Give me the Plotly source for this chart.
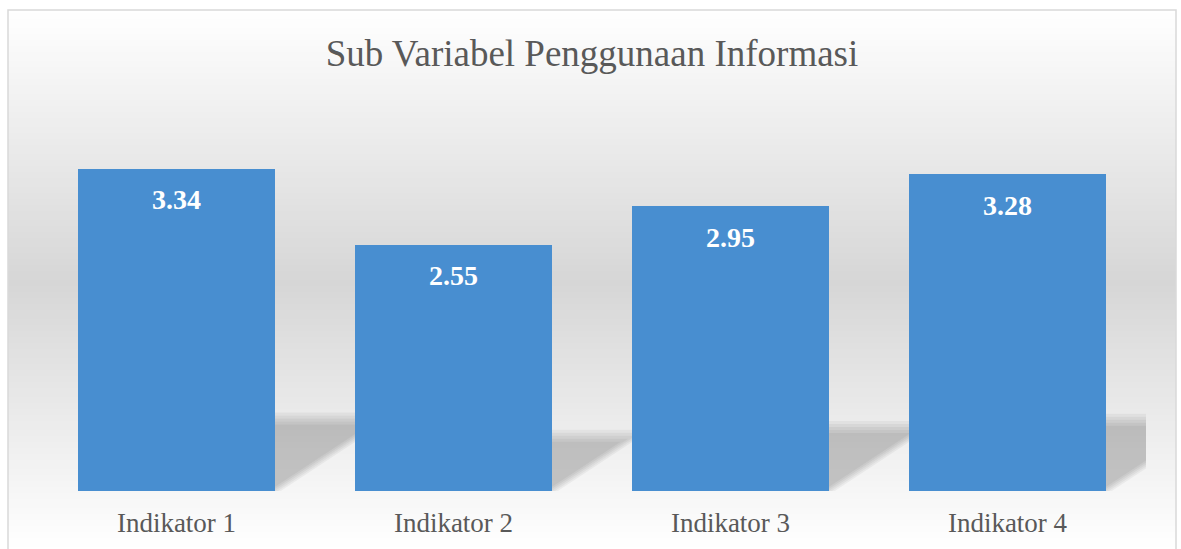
import plotly.graph_objects as go

categories = ["Indikator 1", "Indikator 2", "Indikator 3", "Indikator 4"]
values = [3.34, 2.55, 2.95, 3.28]
title_text = "Sub Variabel Penggunaan Informasi"

W, H = 1181, 549
ML, MR, MT, MB = 38, 35, 105, 58
YMAX = 4.0
BAR_W = 0.71

xpos = list(range(len(categories)))
PW, PH = W - ML - MR, H - MT - MB
px_per_x = PW / len(categories)
px_per_y = PH / YMAX

def py(ypix):
    """page pixel row -> paper fraction"""
    return (H - MB - ypix) / PH

def px(xpix):
    return (xpix - ML) / PW

fig = go.Figure()
fig.add_trace(go.Bar(
    x=xpos, y=values, width=BAR_W,
    marker=dict(color="#488ed0", line=dict(width=0)),
    hoverinfo="skip", showlegend=False,
))

shapes = []

# background: symmetric vertical gradient white -> grey -> white inside the chart border
top_y, bot_y, mid_y = 10, 549, 282
g_edge, g_mid = 255, 214
step = 3
for y in range(top_y, bot_y, step):
    yc = y + step / 2
    if yc <= mid_y:
        t = (yc - top_y) / (mid_y - top_y)
    else:
        t = (bot_y - yc) / (bot_y - mid_y)
    g = int(round(g_edge + (g_mid - g_edge) * t))
    shapes.append(dict(
        type="rect", xref="paper", yref="paper", layer="below",
        x0=px(8), x1=px(1176), y0=py(y + step), y1=py(y),
        fillcolor=f"rgb({g},{g},{g})", line=dict(width=0),
    ))

# soft perspective shadows cast by each bar (size derived from the bar value)
SLOPE = 0.66           # px rise per px run of the diagonal edge
SH_RATIO = 0.225       # shadow height relative to bar height
for i, v in zip(xpos, values):
    R = i + BAR_W / 2
    T = SH_RATIO * v * px_per_y          # shadow height in px
    for o in (-6, -3, 0, 3, 6):
        top_px = T + o
        x_bot = R + o / px_per_x
        x_top = R + (o + top_px / SLOPE) / px_per_x
        shapes.append(dict(
            type="path", xref="x", yref="y", layer="below",
            path=(f"M {R - 0.03} 0 L {R - 0.03} {top_px / px_per_y} "
                  f"L {x_top} {top_px / px_per_y} L {x_bot} 0 Z"),
            fillcolor="rgba(0,0,0,0.045)", line=dict(width=0),
        ))

# chart border
shapes.append(dict(
    type="rect", xref="paper", yref="paper", layer="above",
    x0=px(8), x1=px(1176), y0=py(560), y1=py(10),
    line=dict(color="#d9d9d9", width=1.5), fillcolor="rgba(0,0,0,0)",
))

annotations = []
for i, v in zip(xpos, values):
    annotations.append(dict(
        x=i, y=v, xref="x", yref="y", text=f"{v:.2f}", showarrow=False,
        yanchor="middle", yshift=-31,
        font=dict(family="Liberation Serif", size=28, color="white", weight="bold"),
    ))

fig.update_layout(
    width=W, height=H,
    margin=dict(l=ML, r=MR, t=MT, b=MB),
    paper_bgcolor="white", plot_bgcolor="rgba(0,0,0,0)",
    title=dict(text=title_text, x=0.5, xref="paper", xanchor="center",
               y=1 - 53 / H, yref="container", yanchor="middle",
               font=dict(family="Liberation Serif", size=37, color="#595959")),
    xaxis=dict(tickvals=xpos, ticktext=categories, range=[-0.5, len(categories) - 0.5],
               showgrid=False, zeroline=False, showline=False, ticks="",
               tickfont=dict(family="Liberation Serif", size=27, color="#595959"),
               ticklabelstandoff=13, fixedrange=True),
    yaxis=dict(range=[0, YMAX], visible=False, fixedrange=True),
    shapes=shapes, annotations=annotations,
    bargap=0,
)

fig.write_html("out.html", config={"displayModeBar": False},
               post_script="document.body.style.margin='0';")
